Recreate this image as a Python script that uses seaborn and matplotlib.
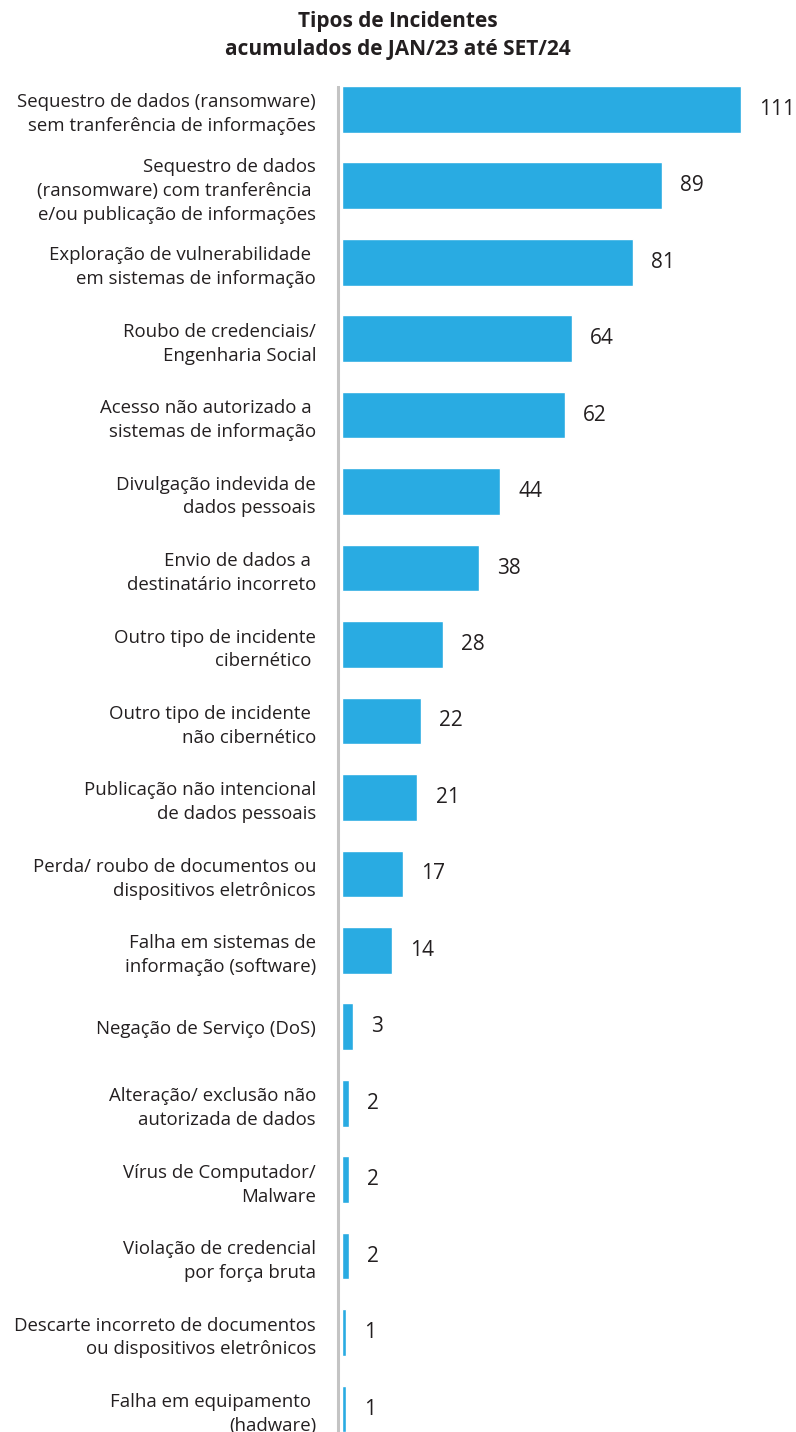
import matplotlib.pyplot as plt
import seaborn as sns
import pandas as pd

# Tipos de incidentes acumulados JAN/23 - SET/24
tipos = [
    "Sequestro de dados (ransomware)\nsem tranferência de informações",
    "Sequestro de dados\n(ransomware) com tranferência \ne/ou publicação de informações",
    "Exploração de vulnerabilidade \nem sistemas de informação",
    "Roubo de credenciais/\nEngenharia Social",
    "Acesso não autorizado a \nsistemas de informação",
    "Divulgação indevida de\ndados pessoais",
    "Envio de dados a \ndestinatário incorreto",
    "Outro tipo de incidente\ncibernético ",
    "Outro tipo de incidente \nnão cibernético",
    "Publicação não intencional\nde dados pessoais",
    "Perda/ roubo de documentos ou\ndispositivos eletrônicos",
    "Falha em sistemas de\ninformação (software)",
    "Negação de Serviço (DoS)",
    "Alteração/ exclusão não\nautorizada de dados",
    "Vírus de Computador/\nMalware",
    "Violação de credencial\npor força bruta",
    "Descarte incorreto de documentos\nou dispositivos eletrônicos",
    "Falha em equipamento \n(hadware)",
]
quantidade = [111, 89, 81, 64, 62, 44, 38, 28, 22, 21, 17, 14, 3, 2, 2, 2, 1, 1]

df = pd.DataFrame({"Tipo": tipos, "Quantidade": quantidade})

sns.set_style("white")
plt.rcParams["font.family"] = ["Open Sans", "DejaVu Sans"]
texto = "#231f20"

fig = plt.figure(figsize=(7.96, 14.32), dpi=100)
ax = fig.add_axes([330 / 796, 0, 1 - 330 / 796, 1 - 86 / 1432])

sns.barplot(data=df, y="Tipo", x="Quantidade", orient="h", color="#29abe2",
            width=0.61, saturation=1, ax=ax)

ax.set_xlim(-3.34, 126.3)
ax.set_ylim(17.30, -0.305)
ax.axvline(-1.1, color="#c4c4c4", lw=2.2)

for s in ax.spines.values():
    s.set_visible(False)
ax.set_xticks([])
ax.set_xlabel("")
ax.set_ylabel("")
ax.tick_params(axis="y", length=0, pad=10, labelsize=13.4, labelcolor=texto)
for lab in ax.get_yticklabels():
    lab.set_linespacing(1.42)

ax.bar_label(ax.containers[0], padding=13, fontsize=15, color=texto)

fig.text(0.5, 1 - 22 / 1432, "Tipos de Incidentes", ha="center", va="center",
         fontsize=15, fontweight="bold", color=texto)
fig.text(0.5, 1 - 50 / 1432, "acumulados de JAN/23 até SET/24", ha="center",
         va="center", fontsize=15, fontweight="bold", color=texto)

fig.savefig("out.png", dpi=100)
